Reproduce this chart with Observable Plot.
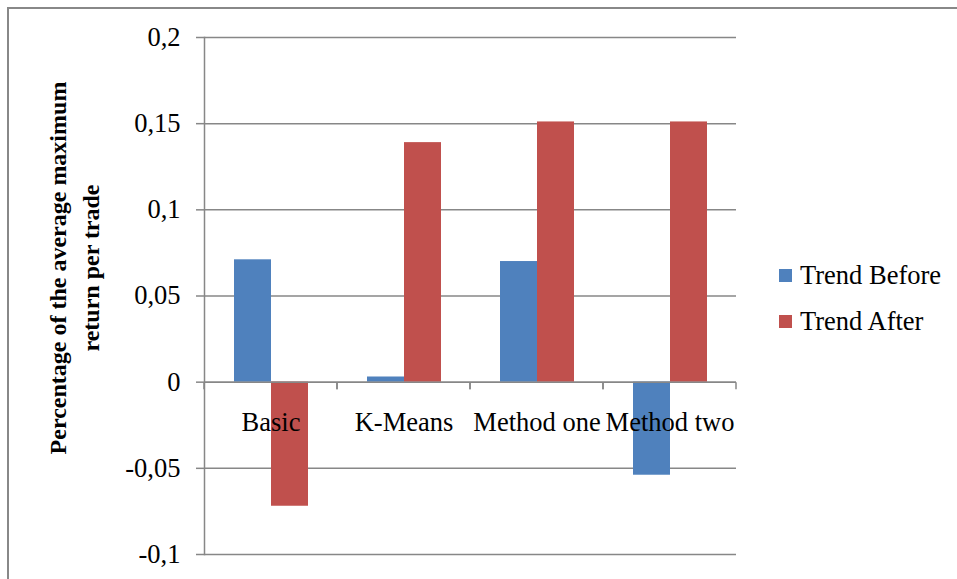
<!DOCTYPE html>
<html>
<head>
<meta charset="utf-8">
<script src="https://cdn.jsdelivr.net/npm/d3@7"></script>
<script src="https://cdn.jsdelivr.net/npm/@observablehq/plot@0.6"></script>
<style>
  html, body { margin: 0; padding: 0; background: #fff; }
  #chart { position: relative; width: 957px; height: 579px; overflow: hidden; font-family: 'Liberation Serif', 'Times New Roman', serif; }
  #border { position: absolute; left: 7px; top: 7px; right: 0; bottom: 0; border-top: 2px solid #888; border-left: 2px solid #888; }
  #plot { position: absolute; left: 0; top: 0; }
  #ytitle { position: absolute; left: 75px; top: 268px; width: 440px; transform: translate(-50%, -50%) rotate(-90deg);
            text-align: center; font-weight: bold; font-size: 24px; line-height: 33px; color: #000; }
  .legend-item { position: absolute; left: 779px; display: flex; align-items: center; font-size: 26.5px; color: #000; }
  .swatch { width: 13px; height: 13px; margin-right: 8px; }
  #plot text { font-family: 'Liberation Serif', 'Times New Roman', serif; }
</style>
</head>
<body>
<div id="chart">
  <div id="border"></div>
  <div id="plot"></div>
  <div id="ytitle">Percentage of the average maximum<br>return per trade</div>
  <div id="legend"></div>
</div>
<script>
// Average maximum return per trade, by method, before and after the trend
const categories = ["Basic", "K-Means", "Method one", "Method two"];
const series = ["Trend Before", "Trend After"];
const trendBefore = [0.071, 0.003, 0.070, -0.054];
const trendAfter = [-0.072, 0.139, 0.151, 0.151];
const yTicks = [-0.1, -0.05, 0, 0.05, 0.1, 0.15, 0.2];
const colors = ["#4F81BD", "#C0504D"];

const rows = categories.flatMap((c, i) => [
  {category: c, series: series[0], value: trendBefore[i]},
  {category: c, series: series[1], value: trendAfter[i]}
]);

const gridColor = "#878787";

// Short category-boundary ticks hanging below the zero line, at the edges of each facet
function boundaryTicks(index, scales, values, dimensions, context, next) {
  const g = next(index, scales, values, dimensions, context);
  const y0 = scales.y(0);
  const {marginLeft, marginRight, width} = dimensions;
  for (const x of [marginLeft, width - marginRight]) {
    const line = document.createElementNS("http://www.w3.org/2000/svg", "line");
    line.setAttribute("x1", x);
    line.setAttribute("x2", x);
    line.setAttribute("y1", y0);
    line.setAttribute("y2", y0 + 7);
    line.setAttribute("stroke", gridColor);
    line.setAttribute("stroke-width", 1.5);
    g.appendChild(line);
  }
  return g;
}

const chart = Plot.plot({
  width: 957,
  height: 579,
  marginLeft: 202,
  marginRight: 220,
  marginTop: 37,
  marginBottom: 25,
  style: {background: "transparent"},
  fx: {domain: categories, padding: 0, axis: null, label: null},
  x: {domain: series, paddingInner: 0, paddingOuter: 0.76, axis: null, label: null},
  y: {domain: [-0.1, 0.2], axis: null, label: null},
  color: {domain: series, range: colors},
  marks: [
    Plot.ruleY(yTicks, {stroke: gridColor, strokeWidth: 1.5}),
    Plot.barY(rows, {fx: "category", x: "series", y: "value", fill: "series"}),
    Plot.ruleY([0], {stroke: gridColor, strokeWidth: 1.5, render: boundaryTicks}),
    Plot.frame({anchor: "left", facetAnchor: "left", stroke: gridColor, strokeWidth: 1.5}),
    Plot.axisY(yTicks, {
      tickSize: 8, tickPadding: 16, stroke: gridColor, strokeWidth: 1.5, fill: "#000",
      fontSize: 26.5, tickFormat: d => String(d).replace(".", ","), label: null
    }),
    Plot.text(categories, {fx: d => d, y: () => 0, text: d => d, dy: 40, fontSize: 26.5, fill: "#000"})
  ]
});
document.getElementById("plot").appendChild(chart);

// Legend to the right of the plot
const legend = document.getElementById("legend");
series.forEach((s, i) => {
  const item = document.createElement("div");
  item.className = "legend-item";
  item.style.top = (260 + i * 46) + "px";
  item.innerHTML = `<div class="swatch" style="background:${colors[i]}"></div><span>${s}</span>`;
  legend.appendChild(item);
});
</script>
</body>
</html>
